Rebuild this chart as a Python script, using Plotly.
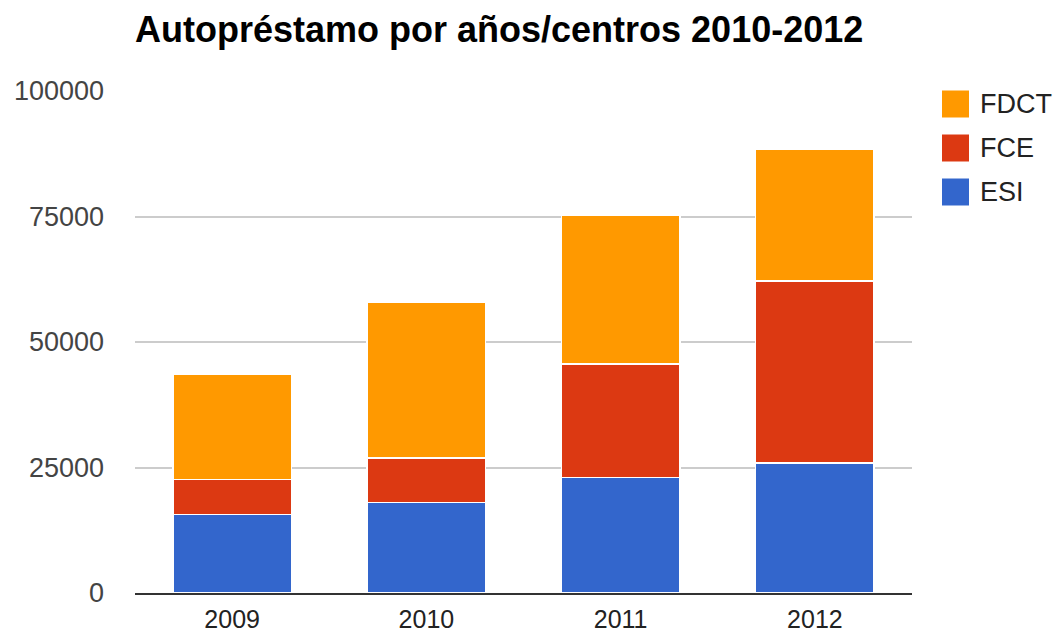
import plotly.graph_objects as go

years = ["2009", "2010", "2011", "2012"]
esi = [15600, 18000, 23000, 25900]
fce = [7000, 8850, 22650, 36300]
fdct = [20900, 31000, 29550, 26250]
series_names = ["ESI", "FCE", "FDCT"]
series_values = [esi, fce, fdct]
colors = ["#3366cc", "#dc3912", "#ff9900"]
y_ticks = [0, 25000, 50000, 75000, 100000]

fig = go.Figure()
for name, vals, col in zip(series_names, series_values, colors):
    fig.add_trace(go.Bar(x=years, y=vals, name=name,
                         marker=dict(color=col, line=dict(color="white", width=1.5)),
                         showlegend=False))

# manual legend (top to bottom: FDCT, FCE, ESI)
legend_font = dict(family="Liberation Sans, Arial", size=27, color="#222222")
for i, (name, col) in enumerate(zip(series_names[::-1], colors[::-1])):
    yc = 104 + i * 44
    fig.add_shape(type="rect", xref="paper", yref="paper",
                  x0=(942 - 135) / 777, x1=(969 - 135) / 777,
                  y0=(593 - (yc + 13.5)) / 502, y1=(593 - (yc - 13.5)) / 502,
                  fillcolor=col, line=dict(width=0))
    fig.add_annotation(xref="paper", yref="paper", x=(978 - 135) / 777,
                       y=(593 - yc) / 502, text=name, showarrow=False,
                       xanchor="left", yanchor="middle", font=legend_font)

fig.update_layout(
    barmode="stack",
    bargap=0.39,
    width=1056, height=636,
    margin=dict(l=135, r=144, t=91, b=43),
    paper_bgcolor="white", plot_bgcolor="white",
    title=dict(text="<b>Autopréstamo por años/centros 2010-2012</b>",
               x=135 / 1056, xanchor="left", y=1 - 29 / 636, yanchor="middle",
               font=dict(family="Liberation Sans, Arial", size=36, color="#000000")),
    font=dict(family="Liberation Sans, Arial", size=27, color="#444444"),
    xaxis=dict(showgrid=False, showline=True, linecolor="#333333", linewidth=2,
               automargin=False,
               ticks="", ticklabelstandoff=3, tickfont=dict(size=25, color="#222222")),
    yaxis=dict(range=[0, 100000], tickvals=y_ticks, ticktext=[str(v) for v in y_ticks],
               automargin=False,
               showgrid=True, gridcolor="#cccccc", gridwidth=1.5, zeroline=False,
               showline=False, ticks="", ticklabelstandoff=30,
               tickfont=dict(size=27, color="#444444")),
)

fig.write_html("out.html", config={"displayModeBar": False},
               post_script="document.body.style.margin='0';")
